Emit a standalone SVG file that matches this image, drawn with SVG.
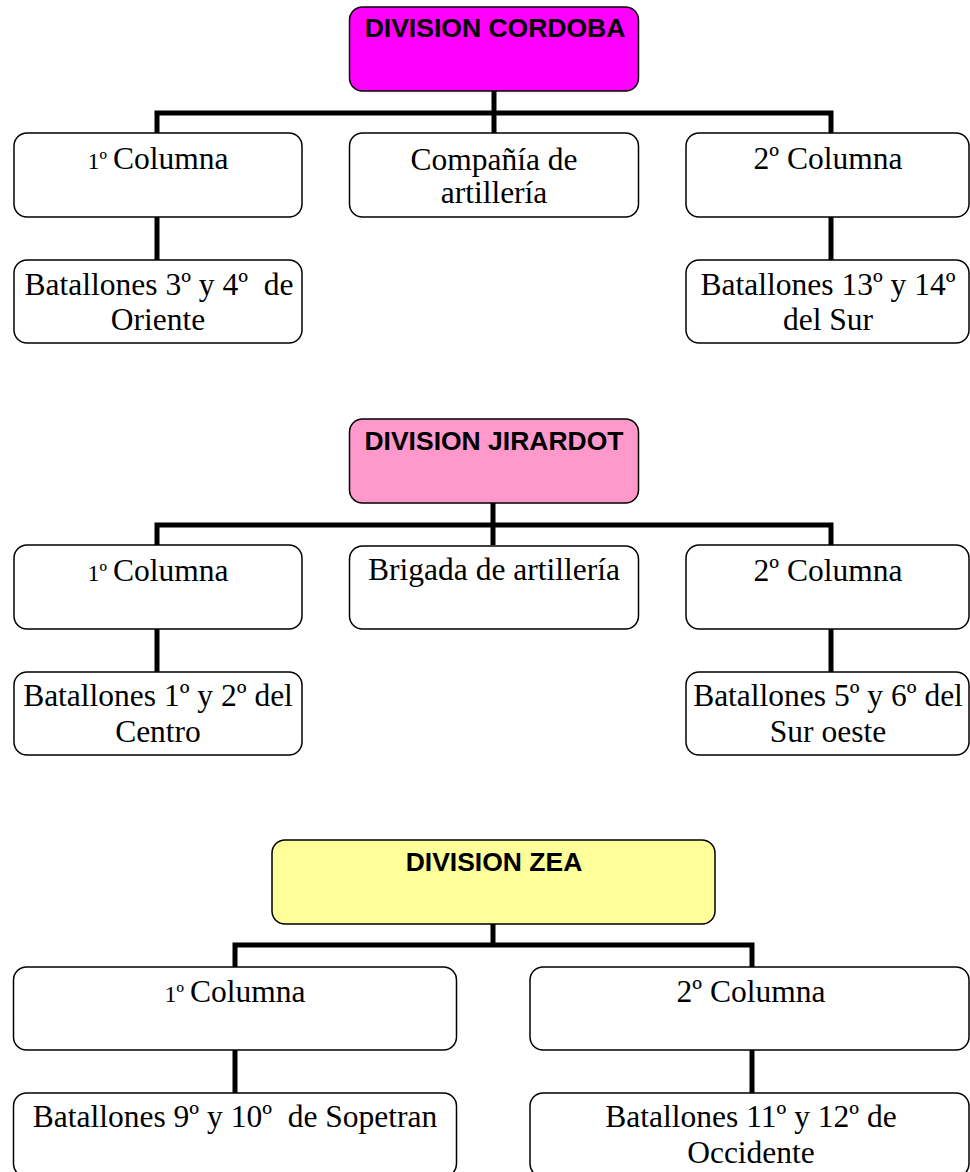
<svg xmlns="http://www.w3.org/2000/svg" width="970" height="1172" viewBox="0 0 970 1172">
  <style>
    .box { fill: #ffffff; stroke: #000000; stroke-width: 1.5; }
    .hdr { stroke: #000000; stroke-width: 1.5; }
    .cordoba { fill: #ff00ff; }
    .jirardot { fill: #ff99cc; }
    .zea { fill: #ffff99; }
    .conn { fill: none; stroke: #000000; stroke-width: 5; stroke-linejoin: miter; stroke-linecap: butt; }
    .title { font-family: "Liberation Sans", Arial, sans-serif; font-weight: bold; font-size: 26.5px; text-anchor: middle; fill: #000000; }
    .lbl { font-family: "Liberation Serif", "Times New Roman", serif; font-size: 31.5px; text-anchor: middle; fill: #000000; }
    .small { font-size: 24px; }
  </style>

  <rect width="970" height="1172" fill="#ffffff"/>

  <!-- connectors -->
  <g id="connectors">
    <!-- Division Cordoba -->
    <path class="conn" d="M494 91 V133"/>
    <path class="conn" d="M157 133 V113 H831 V133"/>
    <path class="conn" d="M157 217 V260"/>
    <path class="conn" d="M831 217 V260"/>
    <!-- Division Jirardot -->
    <path class="conn" d="M493 503 V545"/>
    <path class="conn" d="M157 545 V525 H831 V545"/>
    <path class="conn" d="M157 629 V672"/>
    <path class="conn" d="M831 629 V672"/>
    <!-- Division Zea -->
    <path class="conn" d="M493 924 V945"/>
    <path class="conn" d="M235 967 V945 H752 V967"/>
    <path class="conn" d="M235 1050 V1093"/>
    <path class="conn" d="M752 1050 V1093"/>
  </g>

  <!-- Division Cordoba -->
  <g id="div-cordoba">
    <rect class="hdr cordoba" x="349.5" y="7" width="289" height="84" rx="13"/>
    <text class="title" x="495" y="37">DIVISION CORDOBA</text>
  </g>
  <g id="cordoba-col1">
    <rect class="box" x="14" y="133" width="288" height="84" rx="13"/>
    <text class="lbl" x="158" y="169" xml:space="preserve"><tspan class="small">1º </tspan>Columna</text>
  </g>
  <g id="cordoba-artilleria">
    <rect class="box" x="349.5" y="133" width="289" height="84" rx="13"/>
    <text class="lbl" x="494" y="170">Compañía de</text>
    <text class="lbl" x="494" y="203">artillería</text>
  </g>
  <g id="cordoba-col2">
    <rect class="box" x="686" y="133" width="283" height="84" rx="13"/>
    <text class="lbl" x="828" y="169">2º Columna</text>
  </g>
  <g id="cordoba-bat-oriente">
    <rect class="box" x="14" y="260" width="288" height="83" rx="13"/>
    <text class="lbl" x="159" y="295" xml:space="preserve">Batallones 3º y 4º  de</text>
    <text class="lbl" x="158" y="330">Oriente</text>
  </g>
  <g id="cordoba-bat-sur">
    <rect class="box" x="686" y="260" width="283" height="83" rx="13"/>
    <text class="lbl" x="828" y="295">Batallones 13º y 14º</text>
    <text class="lbl" x="828" y="330">del Sur</text>
  </g>

  <!-- Division Jirardot -->
  <g id="div-jirardot">
    <rect class="hdr jirardot" x="349.5" y="419" width="289" height="84" rx="13"/>
    <text class="title" x="494" y="450">DIVISION JIRARDOT</text>
  </g>
  <g id="jirardot-col1">
    <rect class="box" x="14" y="545" width="288" height="84" rx="13"/>
    <text class="lbl" x="158" y="581" xml:space="preserve"><tspan class="small">1º </tspan>Columna</text>
  </g>
  <g id="jirardot-artilleria">
    <rect class="box" x="349.5" y="546" width="289" height="83" rx="13"/>
    <text class="lbl" x="494" y="580">Brigada de artillería</text>
  </g>
  <g id="jirardot-col2">
    <rect class="box" x="686" y="545" width="283" height="84" rx="13"/>
    <text class="lbl" x="828" y="581">2º Columna</text>
  </g>
  <g id="jirardot-bat-centro">
    <rect class="box" x="14" y="672" width="288" height="83" rx="13"/>
    <text class="lbl" x="158" y="706">Batallones 1º y 2º del</text>
    <text class="lbl" x="158" y="742">Centro</text>
  </g>
  <g id="jirardot-bat-suroeste">
    <rect class="box" x="686" y="672" width="283" height="83" rx="13"/>
    <text class="lbl" x="828" y="706">Batallones 5º y 6º del</text>
    <text class="lbl" x="828" y="742">Sur oeste</text>
  </g>

  <!-- Division Zea -->
  <g id="div-zea">
    <rect class="hdr zea" x="272" y="840" width="443" height="84" rx="13"/>
    <text class="title" x="494" y="871">DIVISION ZEA</text>
  </g>
  <g id="zea-col1">
    <rect class="box" x="13.5" y="967" width="443" height="83" rx="13"/>
    <text class="lbl" x="235" y="1002" xml:space="preserve"><tspan class="small">1º </tspan>Columna</text>
  </g>
  <g id="zea-col2">
    <rect class="box" x="530" y="967" width="439" height="83" rx="13"/>
    <text class="lbl" x="751" y="1002">2º Columna</text>
  </g>
  <g id="zea-bat-sopetran">
    <rect class="box" x="13.5" y="1093" width="443" height="84" rx="13"/>
    <text class="lbl" x="235" y="1127" xml:space="preserve">Batallones 9º y 10º  de Sopetran</text>
  </g>
  <g id="zea-bat-occidente">
    <rect class="box" x="530" y="1093" width="439" height="84" rx="13"/>
    <text class="lbl" x="751" y="1127">Batallones 11º y 12º de</text>
    <text class="lbl" x="751" y="1163">Occidente</text>
  </g>
</svg>
